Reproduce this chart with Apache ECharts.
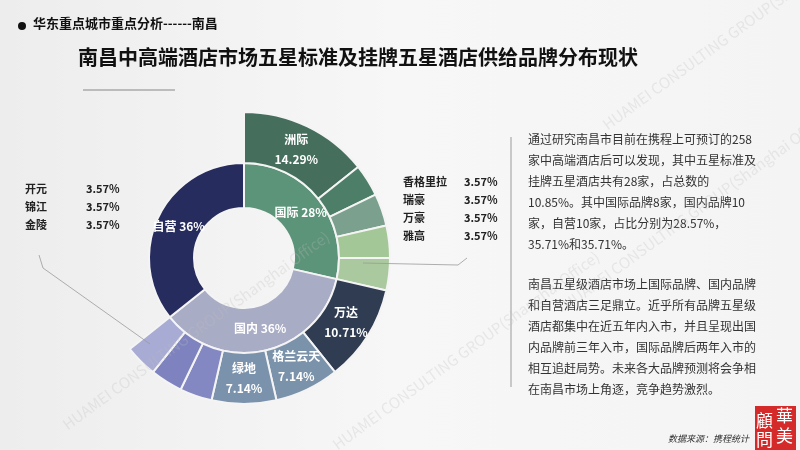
<!DOCTYPE html>
<html>
<head>
<meta charset="utf-8">
<script src="https://cdn.jsdelivr.net/npm/echarts@6/dist/echarts.min.js"></script>
<style>
  html, body { margin: 0; padding: 0; }
  #main { width: 800px; height: 450px; }
</style>
</head>
<body>
<div id="main"></div>
<script>
var chartDom = document.getElementById('main');
var myChart = echarts.init(chartDom);
var option;

// data
var groupNames = ['国际', '国内', '自营'];
var groupPct = ['28%', '36%', '36%'];
var intlBrands = ['洲际', '香格里拉', '瑞豪', '万豪', '雅高'];
var intlCounts = [4, 1, 1, 1, 1];
var domBrands = ['万达', '格兰云天', '绿地', '开元', '锦江', '金陵'];
var domCounts = [3, 2, 2, 1, 1, 1];
var selfCount = 10;
var totalCount = 28;

// colours
var groupColors = ['#5c9479', '#a9acc5', '#272c5e'];
var intlColors = ['#456f5c', '#4d7f68', '#7ba08e', '#a3c796', '#aac99e'];
var domColors = ['#2f3c52', '#7a92aa', '#7b92ad', '#8488c2', '#7e83bf', '#a8abd4'];

var font = '"Noto Sans CJK SC", "Noto Sans", sans-serif';

function pct(v) {
    return (v / totalCount * 100).toFixed(2) + '%';
}

function brandNodes(names, counts, colors) {
    return names.map(function (n, i) {
        return {
            name: n,
            value: counts[i],
            itemStyle: { color: colors[i] },
            label: {
                show: counts[i] > 1,
                formatter: n + '\n' + pct(counts[i])
            }
        };
    });
}

var treeData = [
    {
        name: groupNames[0],
        itemStyle: { color: groupColors[0] },
        label: { formatter: groupNames[0] + ' ' + groupPct[0] },
        children: brandNodes(intlBrands, intlCounts, intlColors)
    },
    {
        name: groupNames[1],
        itemStyle: { color: groupColors[1] },
        label: { formatter: groupNames[1] + ' ' + groupPct[1] },
        children: brandNodes(domBrands, domCounts, domColors)
    },
    {
        name: groupNames[2],
        value: selfCount,
        itemStyle: { color: groupColors[2] },
        label: { formatter: groupNames[2] + ' ' + groupPct[2] }
    }
];

function sideLabels(names, counts, x, y) {
    var out = [];
    names.forEach(function (n, i) {
        out.push({
            type: 'text', left: x, top: y + i * 18,
            style: { text: n, font: 'bold 11px ' + font, fill: '#222' }
        });
        out.push({
            type: 'text', left: x + 61, top: y + i * 18,
            style: { text: pct(counts[i]), font: 'bold 11px ' + font, fill: '#222' }
        });
    });
    return out;
}

var para1 = '通过研究南昌市目前在携程上可预订的258\n家中高端酒店后可以发现，其中五星标准及\n挂牌五星酒店共有28家，占总数的\n10.85%。其中国际品牌8家，国内品牌10\n家，自营10家，占比分别为28.57%，\n35.71%和35.71%。';
var para2 = '南昌五星级酒店市场上国际品牌、国内品牌\n和自营酒店三足鼎立。近乎所有品牌五星级\n酒店都集中在近五年内入市，并且呈现出国\n内品牌前三年入市，国际品牌后两年入市的\n相互追赶局势。未来各大品牌预测将会争相\n在南昌市场上角逐，竞争趋势激烈。';

var watermark = 'HUAMEI CONSULTING GROUP(Shanghai Office)';
var marks = [[60, 420], [330, 440], [560, 300], [600, 120]].map(function (p) {
    return {
        type: 'text', x: p[0], y: p[1], rotation: Math.PI / 5, z: 100,
        style: { text: watermark, font: '15px ' + font, fill: 'rgba(190,190,190,0.28)' }
    };
});

option = {
    backgroundColor: {
        type: 'linear', x: 0, y: 0, x2: 1, y2: 0,
        colorStops: [{ offset: 0, color: '#ededed' }, { offset: 0.5, color: '#f7f7f7' }, { offset: 1, color: '#f4f4f4' }]
    },
    textStyle: { fontFamily: font },
    series: [
        {
            type: 'sunburst',
            center: [244, 258],
            sort: null,
            nodeClick: false,
            startAngle: 90,
            data: treeData,
            emphasis: { disabled: true },
            itemStyle: { borderColor: '#f4f4f4', borderWidth: 2 },
            label: {
                rotate: 0,
                color: '#ffffff',
                fontSize: 12,
                fontWeight: 'bold',
                lineHeight: 20,
                fontFamily: font
            },
            levels: [
                {},
                { r0: 50, r: 95 },
                { r0: 95, r: 146 }
            ]
        }
    ],
    graphic: [
        { type: 'circle', shape: { cx: 22, cy: 26, r: 4 }, style: { fill: '#111' } },
        {
            type: 'text', left: 33, top: 17,
            style: { text: '华东重点城市重点分析------南昌', font: 'bold 13px ' + font, fill: '#111' }
        },
        {
            type: 'text', left: 78, top: 47,
            style: { text: '南昌中高端酒店市场五星标准及挂牌五星酒店供给品牌分布现状', font: 'bold 20px ' + font, fill: '#111' }
        },
        { type: 'line', shape: { x1: 83, y1: 90, x2: 175, y2: 90 }, style: { stroke: '#aaaaaa', lineWidth: 1.5 } },
        { type: 'polyline', shape: { points: [[363, 263], [458, 265], [467, 258]] }, style: { stroke: '#9a9a9a', lineWidth: 0.8, fill: null }, z: 50 },
        { type: 'polyline', shape: { points: [[39, 255], [43, 268], [150, 344]] }, style: { stroke: '#9a9a9a', lineWidth: 0.8, fill: null }, z: 50 },
        { type: 'line', shape: { x1: 511, y1: 137, x2: 511, y2: 387 }, style: { stroke: '#c8c8c8', lineWidth: 2 } },
        {
            type: 'text', left: 528, top: 129,
            style: { text: para1, font: '12px ' + font, fill: '#333', lineHeight: 21 }
        },
        {
            type: 'text', left: 528, top: 274,
            style: { text: para2, font: '12px ' + font, fill: '#333', lineHeight: 21 }
        },
        {
            type: 'text', left: 668, top: 434,
            style: { text: '数据来源：携程统计', font: 'italic 9px ' + font, fill: '#333' }
        },
        { type: 'rect', shape: { x: 755, y: 406, width: 41, height: 44 }, style: { fill: '#d42a2a' } },
        { type: 'text', left: 776, top: 407, style: { text: '華', font: '17px ' + font, fill: '#fff' } },
        { type: 'text', left: 776, top: 427, style: { text: '美', font: '17px ' + font, fill: '#fff' } },
        { type: 'text', left: 756, top: 412, style: { text: '顧', font: '17px ' + font, fill: '#fff' } },
        { type: 'text', left: 756, top: 431, style: { text: '問', font: '17px ' + font, fill: '#fff' } }
    ]
        .concat(sideLabels(domBrands.slice(3), domCounts.slice(3), 25, 183))
        .concat(sideLabels(intlBrands.slice(1), intlCounts.slice(1), 403, 176))
        .concat(marks)
};

option && myChart.setOption(option);
</script>
</body>
</html>
